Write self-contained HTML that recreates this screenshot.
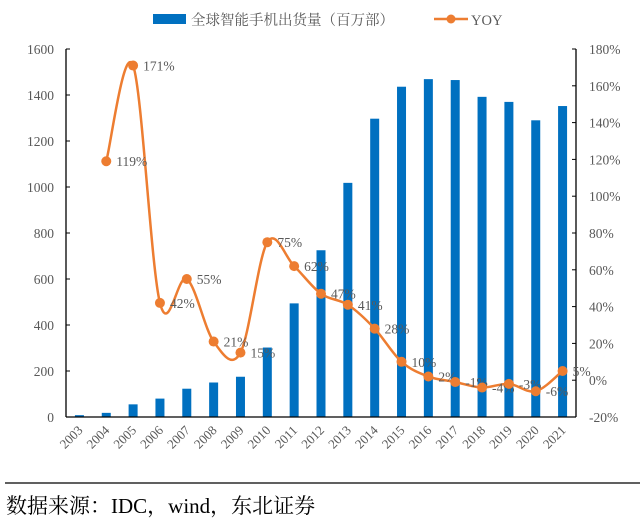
<!DOCTYPE html>
<html><head><meta charset="utf-8">
<style>
body{margin:0;background:#fff;width:644px;height:520px;overflow:hidden;font-family:"Liberation Serif","Noto Serif CJK SC",serif;}
svg text{font-family:"Liberation Serif","Noto Serif CJK SC",serif;fill:#595959;}
</style></head>
<body>
<svg id="chart" width="644" height="520" viewBox="0 0 644 520" xmlns="http://www.w3.org/2000/svg">
  <g>
    <rect x="153" y="14" width="33" height="10" fill="#0070C0"/>
    <text x="191" y="25" font-size="14.5">全球智能手机出货量（百万部）</text>
    <line x1="434" y1="19" x2="468" y2="19" stroke="#ED7D31" stroke-width="2.5"/>
    <circle cx="451" cy="19" r="4.5" fill="#ED7D31"/>
    <text x="471" y="25" font-size="14.5">YOY</text>
  </g>
  <g id="plot"></g>
  <line x1="5" y1="483" x2="640" y2="483" stroke="#000" stroke-width="1.2"/>
  <text x="6" y="513" font-size="21" style="fill:#000">数据来源：IDC，wind，东北证券</text>
</svg>
<script>
const categories=["2003","2004","2005","2006","2007","2008","2009","2010","2011","2012","2013","2014","2015","2016","2017","2018","2019","2020","2021"];
const shipments=[8,18,55,80,123,150,175,302,494,725,1018,1297,1436,1469,1465,1392,1370,1290,1352];
const yoy=[null,119,171,42,55,21,15,75,62,47,41,28,10,2,-1,-4,-2,-6,5];
const yoyLabels=[null,"119%","171%","42%","55%","21%","15%","75%","62%","47%","41%","28%","10%","2%","-1%","-4%","-3%","-6%","5%"];
const leftTicks=[0,200,400,600,800,1000,1200,1400,1600];
const rightTicks=[-20,0,20,40,60,80,100,120,140,160,180];

const NS="http://www.w3.org/2000/svg";
const g=document.getElementById('plot');
const X0=66,X1=576,Y0=417,Y1=49;
const cw=(X1-X0)/categories.length;
const xc=i=>X0+(i+0.5)*cw;
const yL=v=>Y0-(v/1600)*(Y0-Y1);
const yR=v=>Y0-((v+20)/200)*(Y0-Y1);
function mk(t,a){const e=document.createElementNS(NS,t);for(const k in a)e.setAttribute(k,a[k]);g.appendChild(e);return e;}

let e=mk('line',{x1:X0,y1:Y1,x2:X0,y2:Y0,stroke:'#000','stroke-width':1.3});


e=mk('line',{x1:X1,y1:Y1,x2:X1,y2:Y0,stroke:'#000','stroke-width':1.3});


leftTicks.forEach(v=>{
  const t=mk('line',{x1:X0,y1:yL(v),x2:X0+4,y2:yL(v),stroke:'#000'});
  
  
  const l=mk('text',{x:X0-12,y:yL(v)+5,'font-size':13.5,'text-anchor':'end'});
  l.textContent=v;
  
  
});
rightTicks.forEach(v=>{
  const t=mk('line',{x1:X1-4,y1:yR(v),x2:X1,y2:yR(v),stroke:'#000'});
  
  
  const l=mk('text',{x:X1+13,y:yR(v)+5,'font-size':13.5});
  l.textContent=v+'%';
  
  
});
shipments.forEach((v,i)=>{
  const b=mk('rect',{x:xc(i)-4.5,y:yL(v),width:9,height:Y0-yL(v),fill:'#0070C0'});
  
  
});
e=mk('line',{x1:X0,y1:Y0,x2:X1,y2:Y0,stroke:'#000','stroke-width':1.3});


categories.forEach((c,i)=>{
  const l=mk('text',{x:xc(i)+4,y:Y0+14,'font-size':13,'text-anchor':'end',transform:`rotate(-45 ${xc(i)+4} ${Y0+14})`});
  l.textContent=c;
  
  
});
const pts=[];yoy.forEach((v,i)=>{if(v!==null)pts.push([xc(i),yR(v)]);});
let d=`M${pts[0][0]},${pts[0][1]}`;
for(let i=0;i<pts.length-1;i++){
  const p0=pts[Math.max(0,i-1)],p1=pts[i],p2=pts[i+1],p3=pts[Math.min(pts.length-1,i+2)];
  const s=1/6;
  d+=` C${p1[0]+(p2[0]-p0[0])*s},${p1[1]+(p2[1]-p0[1])*s} ${p2[0]-(p3[0]-p1[0])*s},${p2[1]-(p3[1]-p1[1])*s} ${p2[0]},${p2[1]}`;
}
e=mk('path',{d:d,fill:'none',stroke:'#ED7D31','stroke-width':2.5});


yoy.forEach((v,i)=>{
  if(v===null)return;
  const c=mk('circle',{cx:xc(i),cy:yR(v),r:5,fill:'#ED7D31'});
  
  
  const l=mk('text',{x:xc(i)+10,y:yR(v)+5,'font-size':13.5});
  l.textContent=yoyLabels[i];
  
  
});
</script>
</body></html>
